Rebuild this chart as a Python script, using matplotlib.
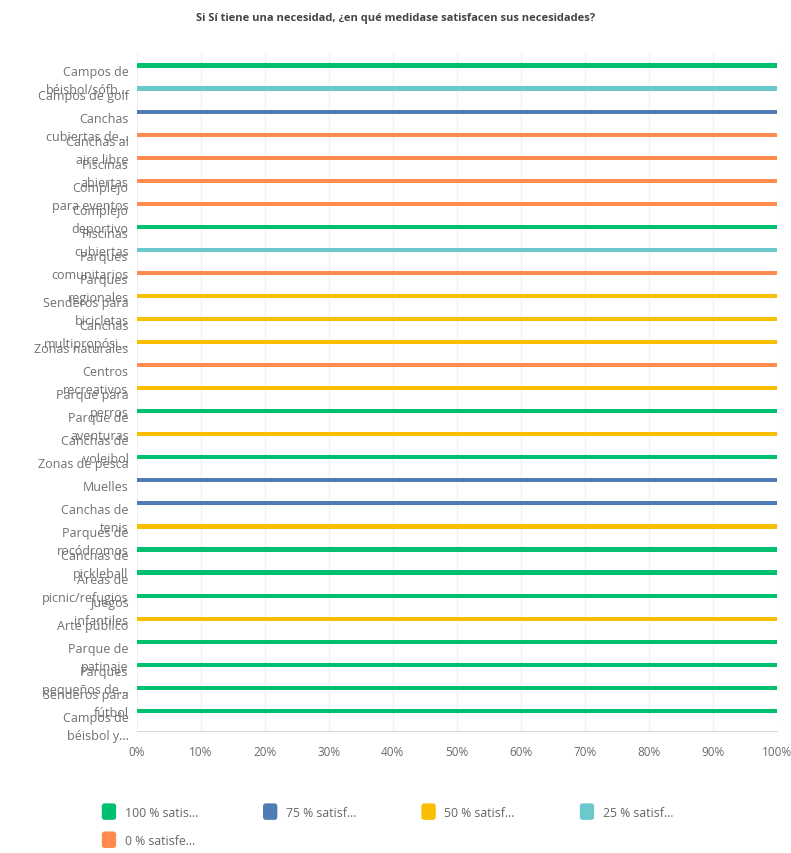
import matplotlib
matplotlib.use("Agg")
import matplotlib.pyplot as plt
import matplotlib.transforms as mtransforms
from matplotlib.patches import FancyBboxPatch, Patch
from matplotlib.legend_handler import HandlerPatch
import numpy as np

title = "Si Sí tiene una necesidad, ¿en qué medidase satisfacen sus necesidades?"

categories = [
    "Campos de\nbéisbol/sófb...",
    "Campos de golf",
    "Canchas\ncubiertas de...",
    "Canchas al\naire libre",
    "Piscinas\nabiertas",
    "Complejo\npara eventos",
    "Complejo\ndeportivo",
    "Piscinas\ncubiertas",
    "Parques\ncomunitarios",
    "Parques\nregionales",
    "Senderos para\nbicicletas",
    "Canchas\nmultipropósi...",
    "Zonas naturales",
    "Centros\nrecreativos",
    "Parque para\nperros",
    "Parque de\naventuras",
    "Canchas de\nvoleibol",
    "Zonas de pesca",
    "Muelles",
    "Canchas de\ntenis",
    "Parques de\nrocódromos",
    "Canchas de\npickleball",
    "Áreas de\npicnic/refugios",
    "Juegos\ninfantiles",
    "Arte público",
    "Parque de\npatinaje",
    "Parques\npequeños de...",
    "Senderos para\nfútbol",
    "Campos de\nbéisbol y...",
]

series_names = ["100 % satis...", "75 % satisf...", "50 % satisf...", "25 % satisf...", "0 % satisfe..."]
series_colors = ["#00BF6F", "#507CB6", "#F9BE00", "#6BC8CD", "#FF8B4F"]

# share of responses (%) for each satisfaction level, per category
pct_100 = [100, 0, 0, 0, 0, 0, 0, 100, 0, 0, 0, 0, 0, 0, 0, 100, 0, 100, 0, 0, 0, 100, 100, 100, 0, 100, 100, 100, 100]
pct_75  = [0, 0, 100, 0, 0, 0, 0, 0, 0, 0, 0, 0, 0, 0, 0, 0, 0, 0, 100, 100, 0, 0, 0, 0, 0, 0, 0, 0, 0]
pct_50  = [0, 0, 0, 0, 0, 0, 0, 0, 0, 0, 100, 100, 100, 0, 100, 0, 100, 0, 0, 0, 100, 0, 0, 0, 100, 0, 0, 0, 0]
pct_25  = [0, 100, 0, 0, 0, 0, 0, 0, 100, 0, 0, 0, 0, 0, 0, 0, 0, 0, 0, 0, 0, 0, 0, 0, 0, 0, 0, 0, 0]
pct_0   = [0, 0, 0, 100, 100, 100, 100, 0, 0, 100, 0, 0, 0, 100, 0, 0, 0, 0, 0, 0, 0, 0, 0, 0, 0, 0, 0, 0, 0]

x_ticks = [0, 10, 20, 30, 40, 50, 60, 70, 80, 90, 100]

plt.rcParams["font.family"] = ["Open Sans", "DejaVu Sans"]

fig = plt.figure(figsize=(7.91, 8.54), dpi=100)
ax = fig.add_axes([0.173, 0.143, 0.809, 0.794])

y = np.arange(len(categories))
left = np.zeros(len(categories))
for vals, color in zip([pct_100, pct_75, pct_50, pct_25, pct_0], series_colors):
    vals = np.array(vals, dtype=float)
    ax.barh(y, vals, left=left, height=0.18, color=color, edgecolor="none", zorder=3)
    left += vals

ax.set_xlim(0, 100)
ax.set_ylim(len(categories) - 0.13, -0.55)
ax.set_xticks(x_ticks)
ax.set_xticklabels([f"{t}%" for t in x_ticks], color="#6a6a6a", fontsize=8.5)
ax.set_yticks(y)
ax.set_yticklabels(categories, color="#707070", fontsize=9, linespacing=1.5)
offset = mtransforms.ScaledTranslation(0, 7 / 72, fig.dpi_scale_trans)
for lab in ax.get_yticklabels():
    lab.set_verticalalignment("top")
    lab.set_transform(lab.get_transform() + offset)

ax.tick_params(axis="both", length=0)
ax.tick_params(axis="y", pad=6)
ax.tick_params(axis="x", pad=10)
ax.grid(axis="x", color="#f0f0f0", linewidth=0.8, zorder=0)
for side in ["top", "right", "left"]:
    ax.spines[side].set_visible(False)
ax.spines["bottom"].set_color("#d9d9d9")

fig.text(0.5, 0.978, title, ha="center", va="center", fontsize=8, fontweight="bold", color="#444444")


class RoundSquare(HandlerPatch):
    def create_artists(self, legend, orig_handle, xdescent, ydescent, width, height, fontsize, trans):
        p = FancyBboxPatch((-xdescent + 1, -ydescent), width - 2, height,
                           boxstyle="round,pad=0,rounding_size=2",
                           facecolor=orig_handle.get_facecolor(), edgecolor="none", transform=trans)
        return [p]


handles = [Patch(facecolor=c, edgecolor="none") for c in series_colors]
# legend is filled column by column; order entries so rows read left to right
order = [0, 4, 1, 2, 3]
fig.legend([handles[i] for i in order], [series_names[i] for i in order],
           loc="upper left", bbox_to_anchor=(0.113, 0.071),
           bbox_transform=fig.transFigure, ncol=4, frameon=False, fontsize=8.8,
           handlelength=1.4, handleheight=1.7, handletextpad=0.6, columnspacing=5.2,
           labelspacing=0.95, labelcolor="#666666",
           handler_map={Patch: RoundSquare()})

fig.savefig("out.png", dpi=100)
